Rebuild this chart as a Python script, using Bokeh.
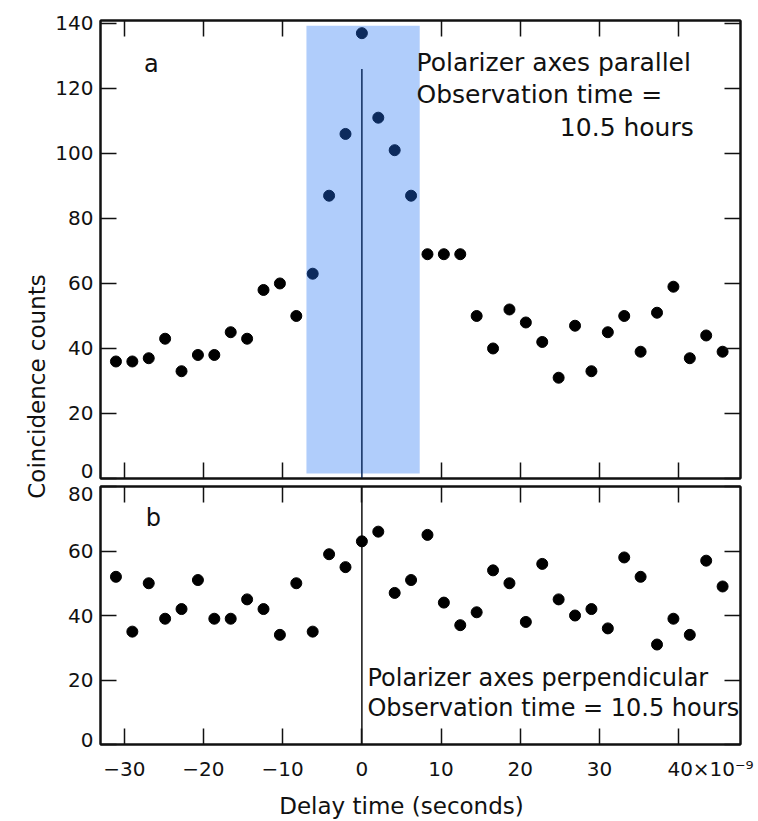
import math
from bokeh.plotting import figure
from bokeh.models import LinearAxis, FixedTicker, Range1d, Label, ColumnDataSource
from bokeh.layouts import row, column
from bokeh.embed import file_html
from bokeh.resources import INLINE

# ---------------- data ----------------
delay_ns = [-31.05, -28.98, -26.91, -24.84, -22.77, -20.70, -18.63, -16.56, -14.49,
            -12.42, -10.35, -8.28, -6.21, -4.14, -2.07, 0.0, 2.07, 4.14, 6.21, 8.28,
            10.35, 12.42, 14.49, 16.56, 18.63, 20.70, 22.77, 24.84, 26.91, 28.98,
            31.05, 33.12, 35.19, 37.26, 39.33, 41.40, 43.47, 45.54]
counts_parallel = [36, 36, 37, 43, 33, 38, 38, 45, 43, 58, 60, 50, 63, 87, 106, 137,
                   111, 101, 87, 69, 69, 69, 50, 40, 52, 48, 42, 31, 47, 33, 45, 50,
                   39, 51, 59, 37, 44, 39]
counts_perpendicular = [52, 35, 50, 39, 42, 51, 39, 39, 45, 42, 34, 50, 35, 59, 55, 63,
                        66, 47, 51, 65, 44, 37, 41, 54, 50, 38, 56, 45, 40, 42, 36, 58,
                        52, 31, 39, 34, 57, 49]

x_ticks_top = [-30, -20, -10, 10, 20, 30, 40]
x_ticks_bottom = [-30, -20, -10, 0, 10, 20, 30, 40]
FSP = "\u2007"
x_tick_labels = {-30: "\u221230", -20: "\u221220", -10: "\u221210", 0: "0",
                 10: "10", 20: "20", 30: "30",
                 40: FSP * 5 + "40\u00d710\u207b\u2079"}
y_ticks_top = [0, 20, 40, 60, 80, 100, 120, 140]
y_ticks_bottom = [0, 20, 40, 60, 80]

highlight_x = [-7.0, 7.3]
highlight_y = [1.5, 139.3]
zero_line_top = [0, 126]
zero_line_bottom = [0, 80]

FONT = "DejaVu Sans"
INK = "#111111"
NAVY = "#0c2a5c"
BLUE = "#b0cdfb"
TICK_FS = "20px"
NOTE_FS = "24px"
TOP_NOTE_FS = "25px"
TITLE_FS = "23px"

TOP_YR = (0, 140.9)      # 458 px frame
BOT_YR = (0, 80)         # 258 px frame


def style_axis(ax, ticks, show_labels):
    ax.ticker = FixedTicker(ticks=ticks)
    ax.major_tick_in = 16
    ax.major_tick_out = 0
    ax.minor_tick_in = 0
    ax.minor_tick_out = 0
    ax.minor_tick_line_color = None
    ax.major_tick_line_width = 1.5
    ax.major_tick_line_color = INK
    ax.axis_line_width = 2
    ax.axis_line_color = INK
    ax.major_label_text_font = FONT
    ax.major_label_text_color = INK
    if show_labels:
        ax.major_label_text_font_size = TICK_FS
        ax.major_label_standoff = 8
    else:
        ax.major_label_overrides = {t: "" for t in ticks}
        ax.major_label_text_font_size = "1px"
        ax.major_label_standoff = 0


def label_axis(ticks, labels, standoff=7):
    """A tick-less left axis that only carries the tick labels."""
    ax = LinearAxis(ticker=FixedTicker(ticks=ticks),
                    major_label_overrides=dict(zip(ticks, labels)))
    ax.axis_line_color = None
    ax.major_tick_line_color = None
    ax.minor_tick_line_color = None
    ax.major_tick_in = 0
    ax.major_tick_out = 0
    ax.minor_tick_in = 0
    ax.minor_tick_out = 0
    ax.major_label_standoff = standoff
    ax.major_label_text_font = FONT
    ax.major_label_text_font_size = TICK_FS
    ax.major_label_text_color = INK
    return ax


def make_panel(height, yr, border_top, border_bottom):
    p = figure(width=708, height=height, output_backend="svg", toolbar_location=None,
               x_range=Range1d(-33.0, 47.8), y_range=Range1d(*yr),
               min_border_left=50, min_border_right=18,
               min_border_top=border_top, min_border_bottom=border_bottom)
    p.grid.visible = False
    p.outline_line_color = INK
    p.outline_line_width = 2
    p.background_fill_color = "white"
    p.border_fill_color = "white"
    return p


def note(p, x, y, txt, align="left", size=NOTE_FS, **kw):
    p.add_layout(Label(x=x, y=y, text=txt, text_font=FONT, text_font_size=size,
                       text_color=INK, text_align=align, text_baseline="middle", **kw))


# ---------------- top panel (a) ----------------
p1 = make_panel(482, TOP_YR, 20, 4)
style_axis(p1.xaxis[0], x_ticks_top, False)
style_axis(p1.yaxis[0], y_ticks_top, False)
# labels: the "0" sits a little above its tick, clear of the panel edge (8 px)
top_px = (TOP_YR[1] - TOP_YR[0]) / 458.0
top_label_pos = [8 * top_px] + y_ticks_top[1:]
p1.add_layout(label_axis(top_label_pos, [str(t) for t in y_ticks_top]), "left")
ax = LinearAxis(); style_axis(ax, x_ticks_top, False); p1.add_layout(ax, "above")
ax = LinearAxis(); style_axis(ax, y_ticks_top, False); p1.add_layout(ax, "right")

p1.quad(left=[highlight_x[0]], right=[highlight_x[1]], bottom=[highlight_y[0]],
        top=[highlight_y[1]], fill_color=BLUE, line_color=None)
p1.segment(x0=[0], x1=[0], y0=[zero_line_top[0]], y1=[zero_line_top[1]],
           line_color=NAVY, line_width=1.5)
colors = [NAVY if highlight_x[0] <= x <= highlight_x[1] else "black" for x in delay_ns]
src1 = ColumnDataSource(dict(x=delay_ns, y=counts_parallel, c=colors))
p1.scatter("x", "y", source=src1, size=11, fill_color="c", line_color="c")

note(p1, -27.5, 127.5, "a")
note(p1, 6.9, 127.9, "Polarizer axes parallel", size=TOP_NOTE_FS)
note(p1, 6.9, 118.2, "Observation time =", size=TOP_NOTE_FS)
note(p1, 41.9, 107.9, "10.5 hours", align="right", size=TOP_NOTE_FS)

# ---------------- bottom panel (b) ----------------
p2 = make_panel(302, BOT_YR, 4, 40)
style_axis(p2.xaxis[0], x_ticks_bottom, True)
p2.xaxis[0].major_label_standoff = 12
p2.xaxis[0].major_label_overrides = x_tick_labels
style_axis(p2.yaxis[0], y_ticks_bottom, False)
bot_px = (BOT_YR[1] - BOT_YR[0]) / 258.0
bot_label_pos = [5 * bot_px] + y_ticks_bottom[1:-1] + [y_ticks_bottom[-1] - 7 * bot_px]
p2.add_layout(label_axis(bot_label_pos, [str(t) for t in y_ticks_bottom]), "left")
ax = LinearAxis(); style_axis(ax, x_ticks_bottom, False); p2.add_layout(ax, "above")
ax = LinearAxis(); style_axis(ax, y_ticks_bottom, False); p2.add_layout(ax, "right")

p2.segment(x0=[0], x1=[0], y0=[zero_line_bottom[0]], y1=[zero_line_bottom[1]],
           line_color=INK, line_width=1.5)
src2 = ColumnDataSource(dict(x=delay_ns, y=counts_perpendicular))
p2.scatter("x", "y", source=src2, size=11, fill_color="black", line_color="black")

note(p2, -27.3, 70.1, "b")
note(p2, 0.7, 20.5, "Polarizer axes perpendicular")
note(p2, 0.7, 11.2, "Observation time = 10.5 hours")

# ---------------- y-axis title strip ----------------
pl = figure(width=50, height=784, output_backend="svg", toolbar_location=None,
            x_range=Range1d(0, 50), y_range=Range1d(0, 784),
            x_axis_location=None, y_axis_location=None, min_border=0,
            min_border_left=0, min_border_right=0, min_border_top=0, min_border_bottom=0)
pl.grid.visible = False
pl.outline_line_color = None
note(pl, 36, 784 - 386, "Coincidence counts", align="center", size=TITLE_FS,
     angle=math.pi / 2)

# ---------------- x-axis title strip ----------------
p3 = figure(width=758, height=37, output_backend="svg", toolbar_location=None,
            x_range=Range1d(0, 758), y_range=Range1d(0, 37),
            x_axis_location=None, y_axis_location=None, min_border=0,
            min_border_left=0, min_border_right=0, min_border_top=0, min_border_bottom=0)
p3.grid.visible = False
p3.outline_line_color = None
note(p3, 401, 16, "Delay time (seconds)", align="center", size=TITLE_FS)

layout = column(row(pl, column(p1, p2, spacing=0), spacing=0), p3, spacing=0)
open("out.html", "w").write(file_html(layout, INLINE))
